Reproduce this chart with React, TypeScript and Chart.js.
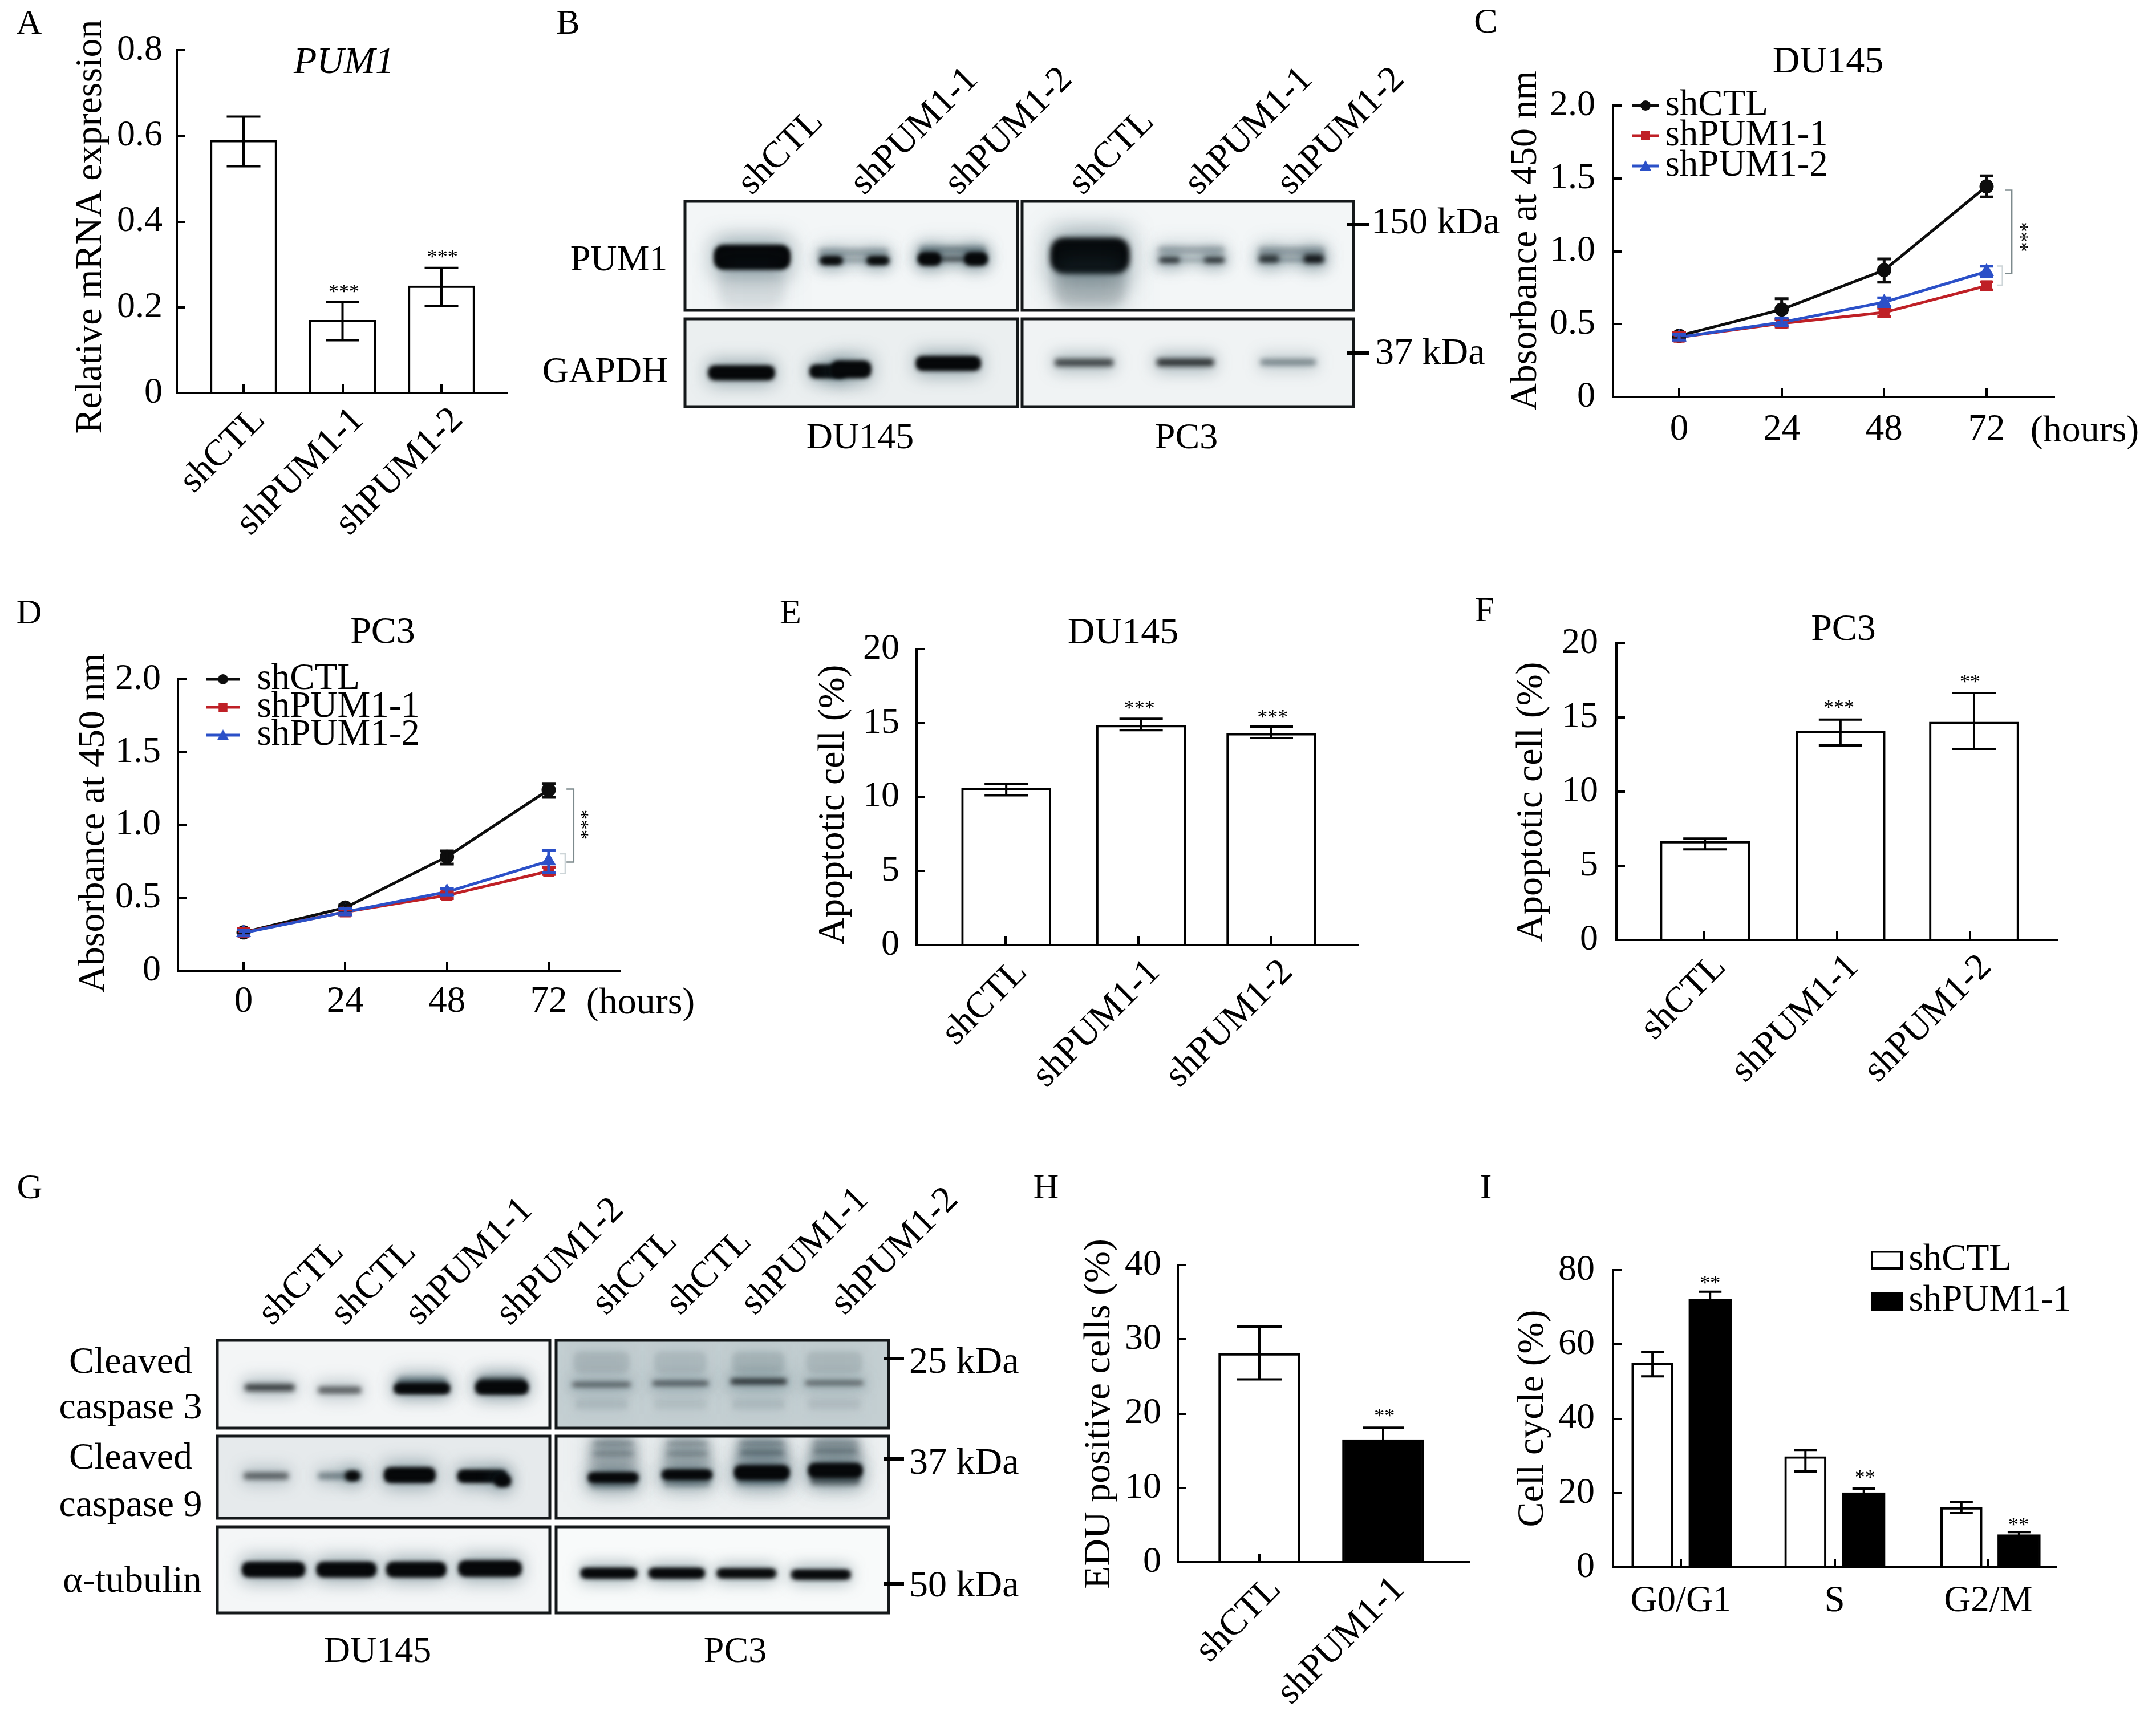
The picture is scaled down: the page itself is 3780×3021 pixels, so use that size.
import React, { useEffect, useRef } from "react";
import { Chart, registerables, Scale } from "chart.js";

Chart.register(...registerables);
const SERIF = "'Liberation Serif', serif";
Chart.defaults.font.family = SERIF;
Chart.defaults.color = "#000";

// ---------- data ----------
const barCats = ["shCTL", "shPUM1-1", "shPUM1-2"];
const edCats = ["shCTL", "shPUM1-1"];
const phaseCats = ["G0/G1", "S", "G2/M"];
const hours = [0, 24, 48, 72];
const hourLabels = ["0", "24", "48", "72"];
const groupCTL = "shCTL";
const groupP1 = "shPUM1-1";
const groupP2 = "shPUM1-2";

const aVal = [0.59, 0.17, 0.25];
const aHi = [0.645, 0.213, 0.292];
const aLo = [0.529, 0.123, 0.203];
const aTicks = ["0", "0.2", "0.4", "0.6", "0.8"];
const aStars = [["***", 1.014, 0.243], ["***", 2.01, 0.324]];

const cCTL = [0.42, 0.6, 0.87, 1.445];
const cCTLHi = [0.44, 0.674, 0.947, 1.518];
const cCTLLo = [0.4, 0.53, 0.788, 1.373];
const cP1 = [0.41, 0.505, 0.58, 0.763];
const cP1Hi = [0.44, 0.53, 0.61, 0.79];
const cP1Lo = [0.39, 0.48, 0.55, 0.735];
const cP2 = [0.41, 0.513, 0.65, 0.86];
const cP2Hi = [0.43, 0.54, 0.68, 0.897];
const cP2Lo = [0.39, 0.49, 0.62, 0.825];
const absTicks = ["0", "0.5", "1.0", "1.5", "2.0"];

const dCTL = [0.263, 0.433, 0.782, 1.241];
const dCTLHi = [0.28, 0.45, 0.822, 1.285];
const dCTLLo = [0.25, 0.415, 0.732, 1.19];
const dP1 = [0.263, 0.403, 0.517, 0.683];
const dP1Hi = [0.29, 0.42, 0.54, 0.71];
const dP1Lo = [0.24, 0.385, 0.495, 0.66];
const dP2 = [0.26, 0.403, 0.541, 0.752];
const dP2Hi = [0.28, 0.425, 0.565, 0.828];
const dP2Lo = [0.24, 0.385, 0.52, 0.672];

const apTicks = ["0", "5", "10", "15", "20"];
const eVal = [10.6, 14.85, 14.3];
const eHi = [10.87, 15.29, 14.76];
const eLo = [10.12, 14.52, 13.99];
const eStars = [["***", 1.008, 16.2], ["***", 2.01, 15.58]];
const fVal = [6.65, 14.1, 14.7];
const fHi = [6.84, 14.86, 16.65];
const fLo = [6.11, 13.12, 12.88];
const fStars = [["***", 1.013, 15.88], ["**", 2.0, 17.6]];

const hVal = [28.1, 16.5];
const hHi = [31.7, 18.1];
const hLo = [24.6, 14.5];
const hTicks = ["0", "10", "20", "30", "40"];
const hStars = [["**", 1.01, 20.07]];

const iCTL = [55, 29.8, 16.1];
const iCTLHi = [58.0, 31.6, 17.5];
const iCTLLo = [51.4, 25.8, 14.6];
const iP1 = [72.2, 20.1, 8.8];
const iP1Hi = [74.2, 21.2, 9.5];
const iP1Lo = [69.8, 18.6, 7.7];
const iTicks = ["0", "20", "40", "60", "80"];
const iStars = [["**", 0.19, 77.4], ["**", 1.198, 24.96], ["**", 2.197, 12.17]];

// western-blot bands: [lane position %, migration %, width %, thickness %, density]
const bPumDU = [[20.2, 51.5, 21.9, 19.5, 1], [20, 78, 20, 40, 0.1],
  [50.7, 47, 21, 8, 0.32], [50.7, 54.5, 21, 3, 0.45], [44, 54.5, 6, 5, 0.95], [58, 54.5, 6, 5, 0.95],
  [80.5, 45, 20, 8, 0.45], [80.5, 53, 20, 3.5, 0.85], [73.5, 53, 6, 9, 1], [87.5, 53, 6, 9, 1]];
const bPumPC = [[20.5, 50, 22.3, 28, 1], [20.5, 75, 22, 45, 0.24],
  [51.1, 45, 20, 8, 0.3], [51.1, 54, 20, 2.5, 0.45], [44.5, 54, 6, 5, 0.8], [58, 54, 6, 5, 0.8],
  [81.4, 46, 20, 9, 0.32], [81.4, 54, 20, 3, 0.5], [74.5, 53, 6, 7, 0.72], [88, 53, 6, 8, 0.9]];
const bGapDU = [[17, 61.7, 19, 12, 1], [43, 60, 10, 11, 1], [50, 57.5, 11, 15, 1], [79.2, 51, 18.5, 12, 1]];
const bGapPC = [[18.7, 50, 17.7, 8, 0.72], [49.3, 49.7, 17.3, 8, 0.82], [80.3, 49.7, 16.8, 7, 0.5]];
const gC3DU = [[15.8, 54, 15, 8, 0.75], [36.8, 57, 13, 8, 0.6], [61.6, 48, 15, 12, 0.5], [61.6, 55, 16, 9, 0.98], [85.6, 47, 14, 10, 0.6], [85.6, 54, 15, 12, 1]];
const gC3PC = [[13.7, 50.5, 17.5, 5, 0.6], [37.4, 49, 16.8, 5, 0.65], [60.9, 47, 16.8, 6, 0.85], [83.7, 48.5, 17.5, 5, 0.55],
  [13.7, 25, 17, 24, 0.13], [37.4, 25, 16, 24, 0.11], [60.9, 25, 16, 24, 0.14], [83.7, 25, 17, 24, 0.12],
  [13.7, 73, 16, 12, 0.1], [37.4, 73, 16, 12, 0.08], [60.9, 73, 16, 12, 0.1], [83.7, 73, 16, 12, 0.09]];
const gC9DU = [[14.7, 48.5, 13.5, 8, 0.58], [36.8, 48.5, 13, 8, 0.5], [40.7, 48.5, 3.5, 8, 0.95], [57.9, 47.5, 14.5, 14, 1], [79.7, 49, 14, 11, 1], [85.9, 54.6, 4, 10, 1]];
const gC9PC = [[17.2, 26, 14.3, 52, 0.26], [39.4, 26, 14.3, 50, 0.24], [61.9, 24, 15.7, 48, 0.28], [84, 22, 15.4, 44, 0.26],
  [17.2, 9, 12, 4, 0.35], [17.2, 21, 12, 4, 0.4], [17.2, 58, 14, 11, 0.42], [17.2, 50.5, 14.3, 8, 1],
  [39.4, 9, 12, 4, 0.32], [39.4, 21, 12, 4, 0.42], [39.4, 56, 14, 10, 0.42], [39.4, 47, 14.3, 8, 1],
  [61.9, 9, 13, 4, 0.38], [61.9, 20, 13, 5, 0.5], [61.9, 54, 15, 11, 0.48], [61.9, 44.5, 15.7, 13, 1],
  [84, 9, 13, 4, 0.3], [84, 18, 13, 5, 0.42], [84, 53, 15, 12, 0.55], [84, 42, 15.4, 13, 1]];
const gTubDU = [[16.9, 49.8, 18, 13, 1], [38.9, 49.8, 17, 13, 1], [59.9, 49.8, 17, 13, 1], [82, 48.5, 18, 14, 1]];
const gTubPC = [[15.9, 54, 16, 8, 0.98], [36.3, 54, 16, 8, 0.98], [57.3, 54, 17, 7, 0.95], [79.7, 55.5, 17, 7, 0.98]];

const bLanes = ["shCTL", "shPUM1-1", "shPUM1-2"];
const gLanes = ["shCTL", "shCTL", "shPUM1-1", "shPUM1-2"];
const bTickDU = [19.2, 53, 81.4];
const bTickPC = [17.4, 52.4, 80.2];
const gTickDU = [15.3, 37.1, 59.5, 86.8];
const gTickPC = [12, 34.3, 56.8, 83.8];

// ---------- plugins ----------
const pinPlugin = {
  id: "pin",
  afterLayout(chart: any, _a: any, o: any) {
    if (o.title) {
      const t = chart.titleBlock;
      t.left = o.title.x - 300;
      t.right = o.title.x + 300;
      t.top = o.title.y - o.title.lh / 2;
    }
    if (o.legend) {
      const l = chart.legend;
      l.left = o.legend.x - o.legend.pad;
      l.right = l.left + 800;
      l.width = 800;
      l.top = o.legend.y - 32.5 - o.legend.pad;
      l.bottom = l.top + 420;
      l.height = 420;
      l.draw = function () { this._draw(); };
    }
  },
};
const errPlugin = {
  id: "err",
  afterDatasetsDraw(chart: any) {
    const ctx = chart.ctx;
    const y = chart.scales.y;
    chart.data.datasets.forEach((ds: any, i: number) => {
      if (!ds.errHi) return;
      const pts = chart.getDatasetMeta(i).data;
      ctx.save();
      ctx.strokeStyle = ds.errColor || "#000";
      ctx.lineWidth = ds.errW || 4;
      pts.forEach((p: any, k: number) => {
        const a = y.getPixelForValue(ds.errHi[k]);
        const b = y.getPixelForValue(ds.errLo[k]);
        const c = ds.capPx / 2;
        ctx.beginPath();
        ctx.moveTo(p.x, a); ctx.lineTo(p.x, b);
        ctx.moveTo(p.x - c, a); ctx.lineTo(p.x + c, a);
        ctx.moveTo(p.x - c, b); ctx.lineTo(p.x + c, b);
        ctx.stroke();
      });
      ctx.restore();
    });
  },
};
const starPlugin = {
  id: "stars",
  afterDatasetsDraw(chart: any, _a: any, o: any) {
    if (!o.items) return;
    const ctx = chart.ctx;
    o.items.forEach(([t, x, y]: any) => {
      ctx.save();
      ctx.translate(chart.scales.x.getPixelForValue(x), chart.scales.y.getPixelForValue(y));
      if (o.rot) ctx.rotate((o.rot * Math.PI) / 180);
      ctx.font = `${o.size}px ${SERIF}`;
      ctx.textAlign = "center";
      ctx.textBaseline = "middle";
      ctx.fillStyle = "#000";
      ctx.fillText(t, 0, o.size * 0.2);
      ctx.restore();
    });
  },
};
const gelPlugin = {
  id: "gel",
  beforeDatasetsDraw(chart: any, _a: any, o: any) {
    const { left, top, width, height } = chart.chartArea;
    chart.ctx.save();
    chart.ctx.fillStyle = o.bg;
    chart.ctx.fillRect(left, top, width, height);
    chart.ctx.restore();
  },
  afterDatasetsDraw(chart: any) {
    const { left, top, width, height } = chart.chartArea;
    chart.ctx.save();
    chart.ctx.strokeStyle = "#14181a";
    chart.ctx.lineWidth = 5;
    chart.ctx.strokeRect(left, top, width, height);
    chart.ctx.restore();
  },
};

// ---------- helpers ----------
function pinTitle(s: any, c: number) {
  s.drawTitle = function () {
    const h = this.isHorizontal();
    const a = h ? this.left : this.top;
    const b = h ? this.right : this.bottom;
    if (h) { this.left = c - 900; this.right = c + 900; } else { this.top = c - 900; this.bottom = c + 900; }
    Scale.prototype.drawTitle.call(this);
    if (h) { this.left = a; this.right = b; } else { this.top = a; this.bottom = b; }
  };
}
function lineIcon(color: string, shape: string, w: number) {
  const c = document.createElement("canvas");
  c.width = w; c.height = 26;
  const g = c.getContext("2d")!;
  g.strokeStyle = color; g.fillStyle = color; g.lineWidth = 5;
  g.beginPath(); g.moveTo(0, 13); g.lineTo(w, 13); g.stroke();
  const m = w / 2;
  g.beginPath();
  if (shape === "circle") g.arc(m, 13, 9, 0, 7);
  else if (shape === "rect") g.rect(m - 8, 5, 16, 16);
  else { g.moveTo(m, 3); g.lineTo(m + 10, 21); g.lineTo(m - 10, 21); g.closePath(); }
  g.fill();
  return c;
}
function boxIcon(fill: string) {
  const c = document.createElement("canvas");
  c.width = 56; c.height = 33;
  const g = c.getContext("2d")!;
  g.fillStyle = fill; g.fillRect(0, 0, 56, 33);
  g.strokeStyle = "#000"; g.lineWidth = 4; g.strokeRect(2, 2, 52, 29);
  return c;
}
function bandImage(w: number, h: number, d: number) {
  const pad = 70;
  const c = document.createElement("canvas");
  c.width = Math.ceil(w + pad * 2);
  c.height = Math.ceil(h + pad * 2);
  const g = c.getContext("2d")!;
  g.filter = `blur(${12 + h * 0.2}px)`;
  g.fillStyle = `rgba(45,80,92,${0.5 * d})`;
  g.fillRect(pad - 2, pad - h * 0.2 - 6, w + 4, h * 1.4 + 12);
  g.filter = `blur(${Math.max(5, h * 0.12)}px)`;
  g.fillStyle = d > 0.5 ? `rgba(6,8,10,${d})` : `rgba(30,48,56,${d})`;
  g.beginPath();
  g.roundRect(pad, pad, w, h, h / 3);
  g.fill();
  if (d > 0.9) { g.fill(); g.fill(); }
  return c;
}

const M = { l: 300, t: 200, r: 180, b: 330 };

type Stat = {
  L: number; T: number; R: number; B: number;
  x0: number; dx: number; xTicks: number[]; xLabels: string[]; rotated: boolean; labelOffset?: number; xPad: number;
  yMax: number; yStep: number; yLabels: string[]; yPad: number; yTitle: string; yCx: number; yCy: number;
  title?: string; tx?: number; ty?: number; italic?: boolean; hours?: [number, number];
  stars?: any; legend?: any;
};

function statOptions(p: Stat) {
  const Tc = p.T - M.t;
  const Lc = p.L - M.l;
  const lhT = 79.2;
  return {
    responsive: false,
    animation: false,
    devicePixelRatio: 1,
    events: [],
    layout: { padding: { top: p.title ? M.t - lhT : M.t, right: M.r, left: 0, bottom: 0 } },
    plugins: {
      tooltip: { enabled: false },
      title: p.title ? { display: true, text: p.title, padding: 0, color: "#000", font: { size: 66, weight: "normal", style: p.italic ? "italic" : "normal", lineHeight: 1.2 } } : { display: false },
      legend: p.legend ? p.legend.options : { display: false },
      pin: { title: p.title ? { x: p.tx! - Lc, y: p.ty! - Tc, lh: lhT } : null, legend: p.legend ? { x: p.legend.x - Lc, y: p.legend.y - Tc, pad: p.legend.options.labels.padding } : null },
      stars: p.stars || {},
    },
    scales: {
      x: {
        type: "linear", position: "bottom", offset: false,
        min: (p.L - p.x0) / p.dx, max: (p.R - p.x0) / p.dx,
        afterBuildTicks: (s: any) => { s.ticks = p.xTicks.map((value) => ({ value })); },
        afterFit: (s: any) => {
          s.height = M.b; s.paddingLeft = 0; s.paddingRight = 0; s.paddingTop = 0; s.paddingBottom = 0;
          if (p.hours) pinTitle(s, p.hours[0] - Lc);
        },
        border: { display: true, color: "#000", width: 4, z: 1 },
        grid: { display: true, offset: false, drawOnChartArea: false, drawTicks: true, tickLength: -15, tickWidth: 4, tickColor: "#000", lineWidth: 4, z: 1 },
        ticks: {
          autoSkip: false, maxRotation: p.rotated ? 45 : 0, minRotation: p.rotated ? 45 : 0,
          padding: p.xPad, labelOffset: p.labelOffset || 0, color: "#000", font: { size: 65 },
          callback: (_v: any, i: number) => p.xLabels[i],
        },
        title: p.hours ? { display: true, text: "(hours)", color: "#000", font: { size: 66, lineHeight: 1.2 }, padding: { top: 0, bottom: M.b + p.B - p.hours[1] - lhT / 2 } } : { display: false },
      },
      y: {
        type: "linear", position: "left", min: 0, max: p.yMax,
        afterFit: (s: any) => {
          s.width = M.l; s.paddingTop = 0; s.paddingBottom = 0; s.paddingLeft = 0; s.paddingRight = 0;
          pinTitle(s, p.yCy - Tc);
        },
        border: { display: true, color: "#000", width: 4, z: 1 },
        grid: { display: true, drawOnChartArea: false, drawTicks: true, tickLength: -15, tickWidth: 4, tickColor: "#000", lineWidth: 4, z: 1 },
        ticks: { stepSize: p.yStep, autoSkip: false, padding: p.yPad, color: "#000", font: { size: 64 }, callback: (_v: any, i: number) => p.yLabels[i] },
        title: { display: true, text: p.yTitle, color: "#000", font: { size: 66, lineHeight: 1.2 }, padding: { top: p.yCx - Lc - lhT / 2, bottom: 0 } },
      },
    },
  };
}
function statBox(p: Stat) {
  return { left: p.L - M.l, top: p.T - M.t, width: M.l + p.R - p.L + M.r, height: M.t + p.B - p.T + M.b };
}
const plugins = [pinPlugin, errPlugin, starPlugin];

function barDs(label: string, xs: number[], v: number[], hi: number[], lo: number[], fill: string, thick: number, cap: number) {
  return {
    label, data: xs.map((x, i) => ({ x, y: v[i] })), errHi: hi, errLo: lo, capPx: cap,
    backgroundColor: fill, borderColor: "#000", borderWidth: 4, borderSkipped: "bottom", barThickness: thick, grouped: false,
  };
}
function lineDs(label: string, v: number[], hi: number[], lo: number[], color: string, shape: string, order: number) {
  return {
    label, data: hours.map((x, i) => ({ x, y: v[i] })), errHi: hi, errLo: lo, capPx: 24, errColor: color, errW: 5,
    borderColor: color, backgroundColor: color, borderWidth: 5, pointStyle: shape, pointRadius: 10, tension: 0, order, isSeries: true, shape,
  };
}
function bracket(xa: number, xb: number, y1: number, y2: number, color: string, w: number) {
  return {
    label: "", data: [{ x: xa, y: y1 }, { x: xb, y: y1 }, { x: xb, y: y2 }, { x: xa, y: y2 }],
    borderColor: color, borderWidth: w, pointRadius: 0, tension: 0, order: 10,
  };
}
function legendOpts(iconW: number, boxW: number, padding: number, kind: string) {
  return {
    display: true, position: "chartArea", align: "start",
    labels: {
      usePointStyle: true, pointStyleWidth: boxW, padding, color: "#000", font: { size: 65 },
      generateLabels: (chart: any) => chart.data.datasets
        .map((d: any, i: number) => ({ d, i }))
        .filter(({ d }: any) => d.label)
        .map(({ d, i }: any) => ({
          text: d.label, datasetIndex: i, hidden: false, lineWidth: 0,
          fillStyle: "#000", strokeStyle: "#000",
          pointStyle: kind === "line" ? lineIcon(d.borderColor, d.shape, iconW) : boxIcon(d.backgroundColor),
        })),
    },
  };
}
const RED = "#bf2026";
const BLUE = "#2b50c8";
const BLACK = "#0d0d0d";

function spec(p: Stat, type: string, datasets: () => any[]) {
  return { box: statBox(p), make: () => ({ type, data: { datasets: datasets() }, options: statOptions(p), plugins }) };
}

const panelA: Stat = { L: 310, T: 87.5, R: 888, B: 689, x0: 427, dx: 173.5, xTicks: [0, 1, 2], xLabels: barCats, rotated: true, labelOffset: 28, xPad: 25, yMax: 0.8, yStep: 0.2, yLabels: aTicks, yPad: 40, yTitle: "Relative mRNA expression", yCx: 160, yCy: 397, title: "PUM1", tx: 603, ty: 110, italic: true, stars: { items: aStars, size: 36 } };
const panelC: Stat = { L: 2828, T: 185, R: 3601, B: 696, x0: 2944, dx: 7.486, xTicks: hours, xLabels: hourLabels, rotated: false, xPad: 34, yMax: 2, yStep: 0.5, yLabels: absTicks, yPad: 46, yTitle: "Absorbance at 450 nm", yCx: 2676, yCy: 422, title: "DU145", tx: 3205, ty: 110, hours: [3655, 757], stars: { items: [["***", 80.95, 1.098]], size: 35, rot: -90 }, legend: { x: 2883, y: 185, options: legendOpts(46, 4, -12, "line") } };
const panelD: Stat = { L: 312, T: 1191, R: 1086, B: 1702, x0: 427, dx: 7.43, xTicks: hours, xLabels: hourLabels, rotated: false, xPad: 31, yMax: 2, yStep: 0.5, yLabels: absTicks, yPad: 45, yTitle: "Absorbance at 450 nm", yCx: 165, yCy: 1443, title: "PC3", tx: 671, ty: 1110, hours: [1123, 1760], stars: { items: [["***", 80.6, 1.002]], size: 35, rot: -90 }, legend: { x: 364, y: 1191, options: legendOpts(59, 54, -16, "line") } };
const panelE: Stat = { L: 1607, T: 1138, R: 2380, B: 1657, x0: 1763, dx: 233, xTicks: [0, 1, 2], xLabels: barCats, rotated: true, labelOffset: 28, xPad: 25, yMax: 20, yStep: 5, yLabels: apTicks, yPad: 45, yTitle: "Apoptotic cell (%)", yCx: 1462, yCy: 1411, title: "DU145", tx: 1969, ty: 1111, stars: { items: eStars, size: 36 } };
const panelF: Stat = { L: 2834, T: 1128, R: 3607, B: 1648, x0: 2988, dx: 233, xTicks: [0, 1, 2], xLabels: barCats, rotated: true, labelOffset: 28, xPad: 25, yMax: 20, yStep: 5, yLabels: apTicks, yPad: 47, yTitle: "Apoptotic cell (%)", yCx: 2686, yCy: 1406, title: "PC3", tx: 3232, ty: 1105, stars: { items: fStars, size: 36 } };
const panelH: Stat = { L: 2065, T: 2218, R: 2575, B: 2739, x0: 2208, dx: 217, xTicks: [0, 1], xLabels: edCats, rotated: true, labelOffset: 28, xPad: 25, yMax: 40, yStep: 10, yLabels: hTicks, yPad: 44, yTitle: "EDU positive cells (%)", yCx: 1928, yCy: 2479, stars: { items: hStars, size: 36 } };
const panelI: Stat = { L: 2828, T: 2227, R: 3605, B: 2748, x0: 2947, dx: 269.5, xTicks: [0, 1, 2], xLabels: phaseCats, rotated: false, xPad: 36, yMax: 80, yStep: 20, yLabels: iTicks, yPad: 47, yTitle: "Cell cycle (%)", yCx: 2688, yCy: 2487, stars: { items: iStars, size: 36 }, legend: { x: 3302, y: 2209, options: legendOpts(56, 12, 7, "box") } };

const statSpecs = [
  spec(panelA, "bar", () => [barDs("", [0, 1, 2], aVal, aHi, aLo, "#fff", 117, 59)]),
  spec(panelC, "line", () => [
    lineDs(groupCTL, cCTL, cCTLHi, cCTLLo, BLACK, "circle", 3),
    lineDs(groupP1, cP1, cP1Hi, cP1Lo, RED, "rect", 2),
    lineDs(groupP2, cP2, cP2Hi, cP2Lo, BLUE, "triangle", 1),
    bracket(76.3, 77.9, 1.419, 0.846, "#7d8a8d", 2.5),
    bracket(74.4, 75.7, 0.898, 0.767, "#cdd5d8", 2.5),
  ]),
  spec(panelD, "line", () => [
    lineDs(groupCTL, dCTL, dCTLHi, dCTLLo, BLACK, "circle", 3),
    lineDs(groupP1, dP1, dP1Hi, dP1Lo, RED, "rect", 2),
    lineDs(groupP2, dP2, dP2Hi, dP2Lo, BLUE, "triangle", 1),
    bracket(76.2, 77.9, 1.247, 0.746, "#7d8a8d", 2.5),
    bracket(74.6, 75.9, 0.802, 0.667, "#cdd5d8", 2.5),
  ]),
  spec(panelE, "bar", () => [barDs("", [0.005, 1.02, 2], eVal, eHi, eLo, "#fff", 157, 76)]),
  spec(panelF, "bar", () => [barDs("", [0.005, 1.025, 2.03], fVal, fHi, fLo, "#fff", 157, 76)]),
  spec(panelH, "bar", () => [barDs("", [0], [hVal[0]], [hHi[0]], [hLo[0]], "#fff", 143, 78), barDs("", [1], [hVal[1]], [hHi[1]], [hLo[1]], "#000", 143, 72)]),
  spec(panelI, "bar", () => [
    barDs(groupCTL, [-0.185, 0.81, 1.825], iCTL, iCTLHi, iCTLLo, "#fff", 73, 40),
    barDs(groupP1, [0.19, 1.19, 2.2], iP1, iP1Hi, iP1Lo, "#000", 75, 40),
  ]),
];

type Gel = { L: number; T: number; R: number; B: number; bg: string; bands: number[][]; laneTicks?: number[]; laneLabels?: string[]; lo?: number; pad?: number };
const gels: Gel[] = [
  { L: 1201, T: 353, R: 1784, B: 544, bg: "#f3f6f7", bands: bPumDU, laneTicks: bTickDU, laneLabels: bLanes, lo: 48, pad: -6 },
  { L: 1792, T: 353, R: 2373, B: 544, bg: "#f3f6f7", bands: bPumPC, laneTicks: bTickPC, laneLabels: bLanes, lo: 48, pad: -6 },
  { L: 1201, T: 553, R: 1784, B: 713, bg: "#ebeff0", bands: bGapDU },
  { L: 1792, T: 553, R: 2373, B: 713, bg: "#f0f3f4", bands: bGapPC },
  { L: 381, T: 2350, R: 964, B: 2504, bg: "#f3f5f6", bands: gC3DU, laneTicks: gTickDU, laneLabels: gLanes, lo: 50, pad: 9 },
  { L: 975, T: 2350, R: 1558, B: 2504, bg: "#c4cfd2", bands: gC3PC, laneTicks: gTickPC, laneLabels: gLanes, lo: 60, pad: 27 },
  { L: 381, T: 2512, R: 964, B: 2662, bg: "#e6eaec", bands: gC9DU },
  { L: 975, T: 2512, R: 1558, B: 2662, bg: "#eef1f2", bands: gC9PC },
  { L: 381, T: 2671, R: 964, B: 2828, bg: "#f4f6f7", bands: gTubDU },
  { L: 975, T: 2671, R: 1558, B: 2828, bg: "#f8fafa", bands: gTubPC },
];
const GT = 300;
const GR = 240;
const GM = 6;
const gelSpecs = gels.map((g) => {
  const w = g.R - g.L, h = g.B - g.T, top = g.laneTicks ? GT : GM;
  const right = g.laneTicks ? GR : GM;
  return {
    box: { left: g.L - GM, top: g.T - top, width: GM + w + right, height: top + h + GM },
    make: () => ({
      type: "scatter",
      data: {
        datasets: [{
          data: g.bands.map((b) => ({ x: b[0], y: b[1] })),
          pointStyle: g.bands.map((b) => bandImage((b[2] * w) / 100, (b[3] * h) / 100, b[4])),
          pointRadius: 10,
        }],
      },
      plugins: [gelPlugin],
      options: {
        responsive: false, animation: false, devicePixelRatio: 1, events: [],
        layout: { autoPadding: false, padding: { right, left: GM, top: g.laneTicks ? 0 : GM, bottom: GM } },
        plugins: { legend: { display: false }, tooltip: { enabled: false }, gel: { bg: g.bg } },
        scales: {
          x: {
            type: "linear", position: "top", min: 0, max: 100, display: !!g.laneTicks, offset: false,
            afterBuildTicks: (s: any) => { if (g.laneTicks) s.ticks = g.laneTicks.map((value) => ({ value })); },
            afterFit: (s: any) => { s.height = top; s.paddingLeft = 0; s.paddingRight = 0; s.paddingTop = 0; s.paddingBottom = 0; },
            border: { display: false }, grid: { display: false, drawTicks: false },
            ticks: { autoSkip: false, minRotation: 45, maxRotation: 45, padding: g.pad || 0, labelOffset: g.lo || 0, color: "#000", font: { size: 65 }, callback: (_v: any, i: number) => (g.laneLabels ? g.laneLabels[i] : "") },
          },
          y: { type: "linear", min: 0, max: 100, reverse: true, display: false },
        },
      },
    }),
  };
});

const notes: [string, number, number, number][] = [
  ["A", 51, 38, 62], ["B", 996, 38, 62], ["C", 2605, 36, 62], ["D", 51, 1072, 62], ["E", 1386, 1072, 62], ["F", 2603, 1068, 62], ["G", 52, 2080, 62], ["H", 1834, 2080, 62], ["I", 2605, 2080, 62],
  ["PUM1", 1085, 453, 64], ["GAPDH", 1061, 649, 64], ["DU145", 1508, 765, 64], ["PC3", 2080, 765, 64],
  ["Cleaved", 229, 2385, 66], ["caspase 3", 229, 2465, 66], ["Cleaved", 229, 2553, 66], ["caspase 9", 229, 2636, 66], ["α-tubulin", 232, 2769, 66],
  ["DU145", 662, 2893, 64], ["PC3", 1289, 2893, 64],
];
const kda: [string, number, number, number, number, number][] = [
  ["150 kDa", 2404, 387, 2361, 2400, 394], ["37 kDa", 2411, 616, 2361, 2400, 619],
  ["25 kDa", 1594, 2385, 1550, 1585, 2382], ["37 kDa", 1594, 2562, 1550, 1585, 2558], ["50 kDa", 1594, 2777, 1550, 1585, 2777],
];

function ChartCanvas({ s }: { s: any }) {
  const ref = useRef<HTMLCanvasElement>(null);
  useEffect(() => {
    const c = new Chart(ref.current as any, s.make() as any);
    return () => c.destroy();
  }, []);
  return <canvas ref={ref} width={s.box.width} height={s.box.height} style={{ position: "absolute", left: s.box.left, top: s.box.top, width: s.box.width, height: s.box.height }} />;
}

export default function App() {
  const base: any = { position: "absolute", whiteSpace: "nowrap", fontFamily: SERIF, color: "#000", lineHeight: 1 };
  return (
    <div style={{ position: "absolute", left: 0, top: 0, width: 3780, height: 3021, background: "#fff", overflow: "hidden" }}>
      {statSpecs.map((s, i) => <ChartCanvas key={"s" + i} s={s} />)}
      {gelSpecs.map((s, i) => <ChartCanvas key={"g" + i} s={s} />)}
      {notes.map(([t, x, y, f], i) => (
        <span key={"n" + i} style={{ ...base, left: x, top: y, fontSize: f, transform: "translate(-50%,-50%)" }}>{t}</span>
      ))}
      {kda.map(([t, x, y, a, b, ty], i) => (
        <React.Fragment key={"k" + i}>
          <span style={{ ...base, left: x, top: y, fontSize: 66, transform: "translateY(-50%)" }}>{t}</span>
          <div style={{ position: "absolute", left: a, top: ty - 3, width: b - a, height: 6, background: "#000" }} />
        </React.Fragment>
      ))}
    </div>
  );
}
